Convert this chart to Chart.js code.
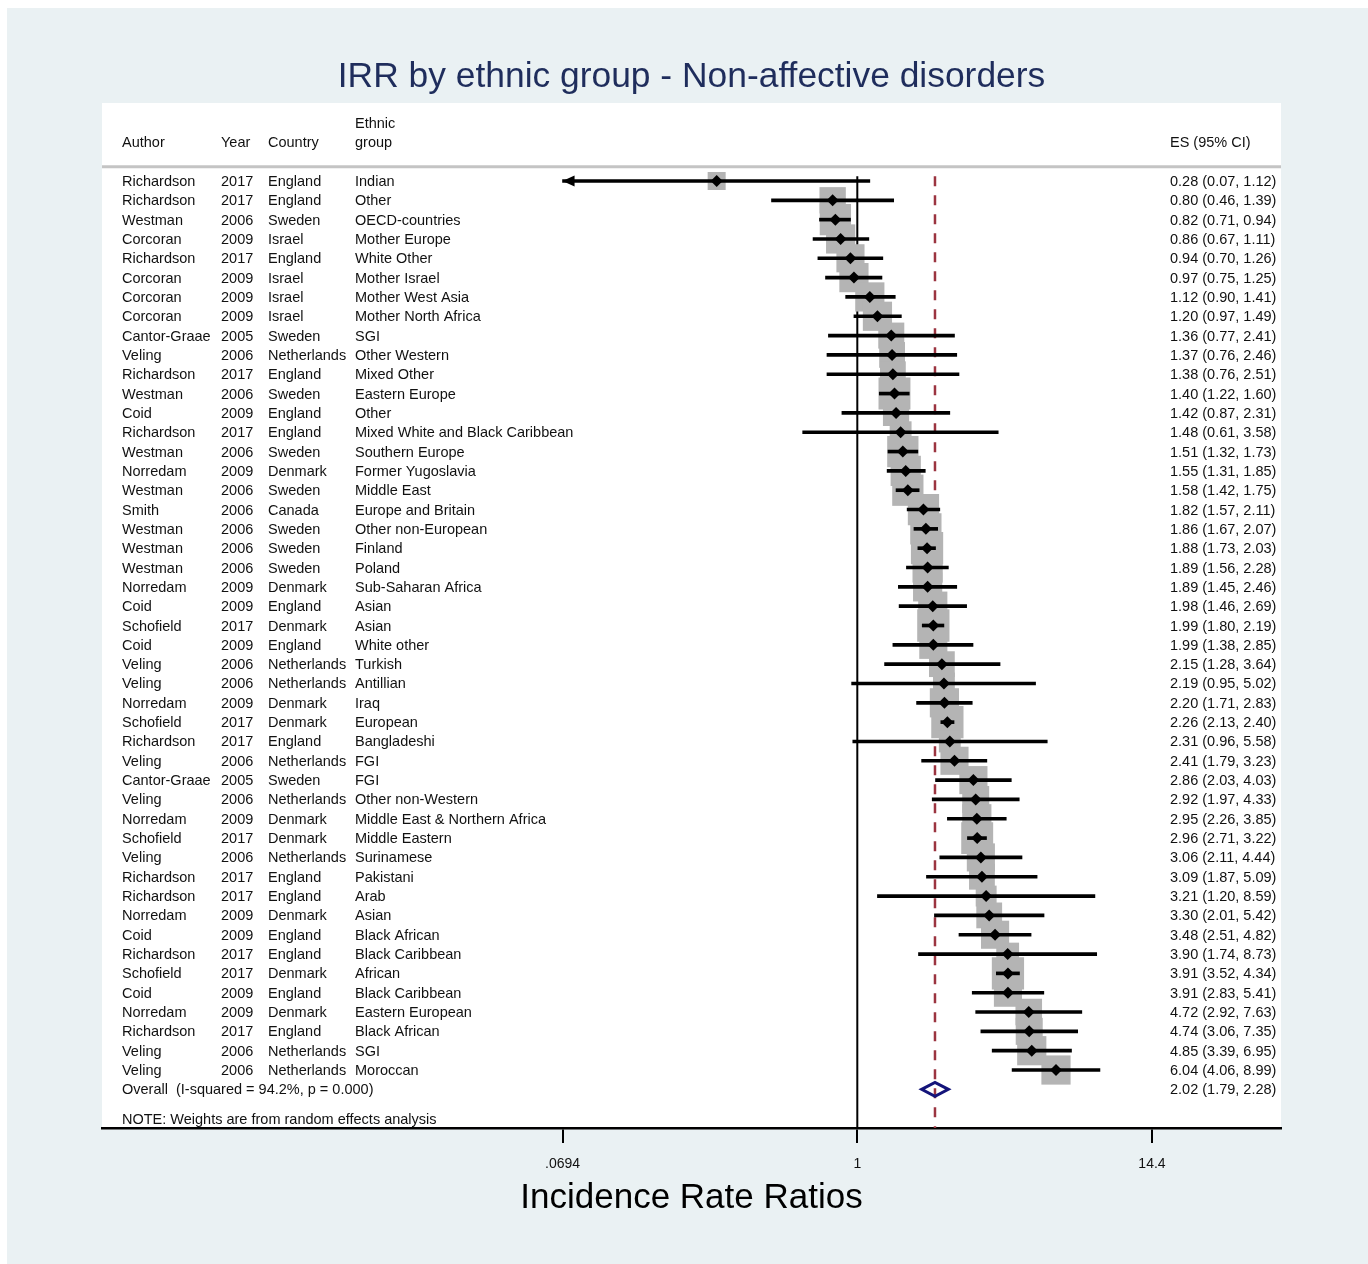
<!DOCTYPE html>
<html>
<head>
<meta charset="utf-8">
<script src="https://cdn.jsdelivr.net/npm/chart.js@4.4.0/dist/chart.umd.min.js"></script>
<style>
  html, body { margin: 0; padding: 0; background: #fff; }
  #wrap { width: 1368px; height: 1264px; position: relative; }
</style>
</head>
<body>
<div id="wrap"><canvas id="forest"></canvas></div>
<script>
const authors = ['Richardson','Richardson','Westman','Corcoran','Richardson','Corcoran','Corcoran','Corcoran','Cantor-Graae','Veling',
  'Richardson','Westman','Coid','Richardson','Westman','Norredam','Westman','Smith','Westman','Westman',
  'Westman','Norredam','Coid','Schofield','Coid','Veling','Veling','Norredam','Schofield','Richardson',
  'Veling','Cantor-Graae','Veling','Norredam','Schofield','Veling','Richardson','Richardson','Norredam','Coid',
  'Richardson','Schofield','Coid','Norredam','Richardson','Veling','Veling'];
const years = [2017,2017,2006,2009,2017,2009,2009,2009,2005,2006,
  2017,2006,2009,2017,2006,2009,2006,2006,2006,2006,
  2006,2009,2009,2017,2009,2006,2006,2009,2017,2017,
  2006,2005,2006,2009,2017,2006,2017,2017,2009,2009,
  2017,2017,2009,2009,2017,2006,2006];
const countries = ['England','England','Sweden','Israel','England','Israel','Israel','Israel','Sweden','Netherlands',
  'England','Sweden','England','England','Sweden','Denmark','Sweden','Canada','Sweden','Sweden',
  'Sweden','Denmark','England','Denmark','England','Netherlands','Netherlands','Denmark','Denmark','England',
  'Netherlands','Sweden','Netherlands','Denmark','Denmark','Netherlands','England','England','Denmark','England',
  'England','Denmark','England','Denmark','England','Netherlands','Netherlands'];
const groups = ['Indian','Other','OECD-countries','Mother Europe','White Other','Mother Israel','Mother West Asia','Mother North Africa','SGI','Other Western',
  'Mixed Other','Eastern Europe','Other','Mixed White and Black Caribbean','Southern Europe','Former Yugoslavia','Middle East','Europe and Britain','Other non-European','Finland',
  'Poland','Sub-Saharan Africa','Asian','Asian','White other','Turkish','Antillian','Iraq','European','Bangladeshi',
  'FGI','FGI','Other non-Western','Middle East & Northern Africa','Middle Eastern','Surinamese','Pakistani','Arab','Asian','Black African',
  'Black Caribbean','African','Black Caribbean','Eastern European','Black African','SGI','Moroccan'];
const es = [0.28,0.80,0.82,0.86,0.94,0.97,1.12,1.20,1.36,1.37,
  1.38,1.40,1.42,1.48,1.51,1.55,1.58,1.82,1.86,1.88,
  1.89,1.89,1.98,1.99,1.99,2.15,2.19,2.20,2.26,2.31,
  2.41,2.86,2.92,2.95,2.96,3.06,3.09,3.21,3.30,3.48,
  3.90,3.91,3.91,4.72,4.74,4.85,6.04];
const ciLow = [0.0694,0.46,0.71,0.67,0.70,0.75,0.90,0.97,0.77,0.76,
  0.76,1.22,0.87,0.61,1.32,1.31,1.42,1.57,1.67,1.73,
  1.56,1.45,1.46,1.80,1.38,1.28,0.95,1.71,2.13,0.96,
  1.79,2.03,1.97,2.26,2.71,2.11,1.87,1.20,2.01,2.51,
  1.74,3.52,2.83,2.92,3.06,3.39,4.06];
const ciHigh = [1.12,1.39,0.94,1.11,1.26,1.25,1.41,1.49,2.41,2.46,
  2.51,1.60,2.31,3.58,1.73,1.85,1.75,2.11,2.07,2.03,
  2.28,2.46,2.69,2.19,2.85,3.64,5.02,2.83,2.40,5.58,
  3.23,4.03,4.33,3.85,3.22,4.44,5.09,8.59,5.42,4.82,
  8.73,4.34,5.41,7.63,7.35,6.95,8.99];
// random-effects weights (%)
const weights = [0.78,1.67,2.35,2.05,1.9,2.05,2.05,2.05,1.63,1.6,
  1.6,2.45,1.65,1.15,2.35,2.2,2.35,2.35,2.35,2.5,
  2.2,2.05,2.05,2.5,1.9,1.6,1.15,2.05,2.5,1.15,
  1.9,1.9,1.75,2.05,2.45,1.9,1.6,1.05,1.6,1.9,
  1.25,2.5,1.9,1.7,1.75,2.05,2.05];
const overallES = 2.02, overallLo = 1.79, overallHi = 2.28;
const overallLabel = 'Overall  (I-squared = 94.2%, p = 0.000)';
const noteLabel = 'NOTE: Weights are from random effects analysis';
const xTicks = [0.0694, 1, 14.4];
const xTickLabels = ['.0694', '1', '14.4'];

const FONT = "'Liberation Sans', Arial, sans-serif";
const colX = { author: 122, year: 221, country: 268, group: 355, es: 1170 };
const rows = es.map((v, i) => i + 1);
const fmt = (v, l, h) => `${v.toFixed(2)} (${l.toFixed(2)}, ${h.toFixed(2)})`;
const boxSide = w => 20.4 * Math.sqrt(w);

const forestDecor = {
  id: 'forestDecor',
  beforeDraw(chart) {
    const { ctx, chartArea: a, width, height } = chart;
    ctx.save();
    ctx.fillStyle = '#ffffff';
    ctx.fillRect(0, 0, width, height);
    ctx.fillStyle = '#eaf1f3';
    ctx.fillRect(7, 8, width - 7, height - 8);
    ctx.fillStyle = '#ffffff';
    ctx.fillRect(a.left, a.top, a.right - a.left, a.bottom - a.top);
    ctx.restore();
  },
  beforeDatasetsDraw(chart) {
    const { ctx, scales: { x, y }, chartArea: a } = chart;
    const top = y.getPixelForValue(0.75);
    ctx.save();
    const x1 = x.getPixelForValue(1);
    ctx.strokeStyle = '#000';
    ctx.lineWidth = 2;
    ctx.beginPath(); ctx.moveTo(x1, top); ctx.lineTo(x1, a.bottom); ctx.stroke();
    const xo = x.getPixelForValue(overallES);
    ctx.strokeStyle = '#9b3440';
    ctx.lineWidth = 2.5;
    ctx.setLineDash([10, 9]);
    ctx.beginPath(); ctx.moveTo(xo, top); ctx.lineTo(xo, a.bottom); ctx.stroke();
    ctx.restore();
  },
  afterDatasetsDraw(chart) {
    const { ctx, scales: { x, y }, chartArea: a } = chart;
    ctx.save();
    // arrow heads where the CI runs past the axis
    ciLow.forEach((lo, i) => {
      if (lo > xTicks[0]) return;
      const px = x.getPixelForValue(xTicks[0]), py = y.getPixelForValue(rows[i]);
      ctx.fillStyle = '#000';
      ctx.beginPath();
      ctx.moveTo(px, py); ctx.lineTo(px + 12, py - 5.5); ctx.lineTo(px + 12, py + 5.5);
      ctx.closePath(); ctx.fill();
    });
    // pooled estimate diamond
    const oy = y.getPixelForValue(rows.length + 1);
    const xo = x.getPixelForValue(overallES);
    ctx.strokeStyle = '#14147a';
    ctx.lineWidth = 3;
    ctx.lineJoin = 'miter';
    ctx.beginPath();
    ctx.moveTo(x.getPixelForValue(overallLo), oy);
    ctx.lineTo(xo, oy - 7);
    ctx.lineTo(x.getPixelForValue(overallHi), oy);
    ctx.lineTo(xo, oy + 7);
    ctx.closePath(); ctx.stroke();

    // header rule
    const hy = y.getPixelForValue(0.26);
    ctx.strokeStyle = '#c4c4c4';
    ctx.lineWidth = 3;
    ctx.beginPath(); ctx.moveTo(a.left, hy); ctx.lineTo(a.right, hy); ctx.stroke();

    // text columns
    const dy = 1;
    ctx.fillStyle = '#111';
    ctx.font = `14.5px ${FONT}`;
    ctx.textBaseline = 'middle';
    ctx.textAlign = 'left';
    const h1 = y.getPixelForValue(-1) + dy, h0 = y.getPixelForValue(-2) + dy;
    ctx.fillText('Author', colX.author, h1);
    ctx.fillText('Year', colX.year, h1);
    ctx.fillText('Country', colX.country, h1);
    ctx.fillText('Ethnic', colX.group, h0);
    ctx.fillText('group', colX.group, h1);
    ctx.fillText('ES (95% CI)', colX.es, h1);
    rows.forEach((r, i) => {
      const py = y.getPixelForValue(r) + dy;
      ctx.fillText(authors[i], colX.author, py);
      ctx.fillText(String(years[i]), colX.year, py);
      ctx.fillText(countries[i], colX.country, py);
      ctx.fillText(groups[i], colX.group, py);
      ctx.fillText(fmt(es[i], ciLow[i], ciHigh[i]), colX.es, py);
    });
    ctx.fillText(overallLabel, colX.author, oy + dy);
    ctx.fillText(fmt(overallES, overallLo, overallHi), colX.es, oy + dy);
    ctx.fillText(noteLabel, colX.author, y.getPixelForValue(49.53) + dy);
    ctx.restore();
  }
};

new Chart(document.getElementById('forest'), {
  type: 'scatter',
  data: {
    datasets: [
      {
        type: 'scatter',
        order: 3,
        data: rows.map((r, i) => ({ x: es[i], y: r })),
        pointStyle: 'rect',
        pointRadius: c => boxSide(weights[c.dataIndex]) / Math.SQRT2,
        pointHoverRadius: c => boxSide(weights[c.dataIndex]) / Math.SQRT2,
        backgroundColor: '#b4b4b4',
        borderWidth: 0
      },
      {
        type: 'bar',
        order: 2,
        indexAxis: 'y',
        data: rows.map((r, i) => ({ y: r, x: [Math.max(ciLow[i], xTicks[0]), ciHigh[i]] })),
        backgroundColor: '#000',
        borderWidth: 0,
        barThickness: 3,
        borderSkipped: false
      },
      {
        type: 'scatter',
        order: 1,
        data: rows.map((r, i) => ({ x: es[i], y: r })),
        pointStyle: 'rectRot',
        pointRadius: 6,
        pointHoverRadius: 6,
        backgroundColor: '#000',
        borderWidth: 0
      }
    ]
  },
  options: {
    responsive: true,
    maintainAspectRatio: false,
    animation: false,
    events: [],
    layout: { padding: { left: 102, right: 87, top: 0, bottom: 0 } },
    plugins: {
      legend: { display: false },
      tooltip: { enabled: false },
      title: {
        display: true,
        text: 'IRR by ethnic group - Non-affective disorders',
        color: '#1f2d5c',
        font: { family: FONT, size: 35.4, weight: 'normal', lineHeight: 1.2 },
        padding: { top: 56, bottom: 4.5 }
      }
    },
    scales: {
      x: {
        type: 'logarithmic',
        offset: false,
        min: Math.pow(10, -2.969),
        max: Math.pow(10, 1.6655),
        afterBuildTicks: s => { s.ticks = xTicks.map(v => ({ value: v })); },
        afterFit: s => { s.height = 136; },
        border: { display: true, color: '#000', width: 2.5 },
        grid: { display: true, offset: false, drawOnChartArea: false, drawTicks: true, tickLength: 15, color: '#000', lineWidth: 2 },
        ticks: {
          autoSkip: false, maxRotation: 0, padding: 13, color: '#111',
          font: { family: FONT, size: 14 },
          callback: (v, i) => xTickLabels[i]
        },
        title: {
          display: true,
          text: 'Incidence Rate Ratios',
          color: '#000',
          font: { family: FONT, size: 35, lineHeight: 1.2 },
          padding: { top: 0, bottom: 45 }
        }
      },
      y: {
        type: 'linear',
        reverse: true,
        offset: false,
        min: -3.036,
        max: 50.0,
        display: false,
        grid: { offset: false }
      }
    }
  },
  plugins: [forestDecor]
});
</script>
</body>
</html>
